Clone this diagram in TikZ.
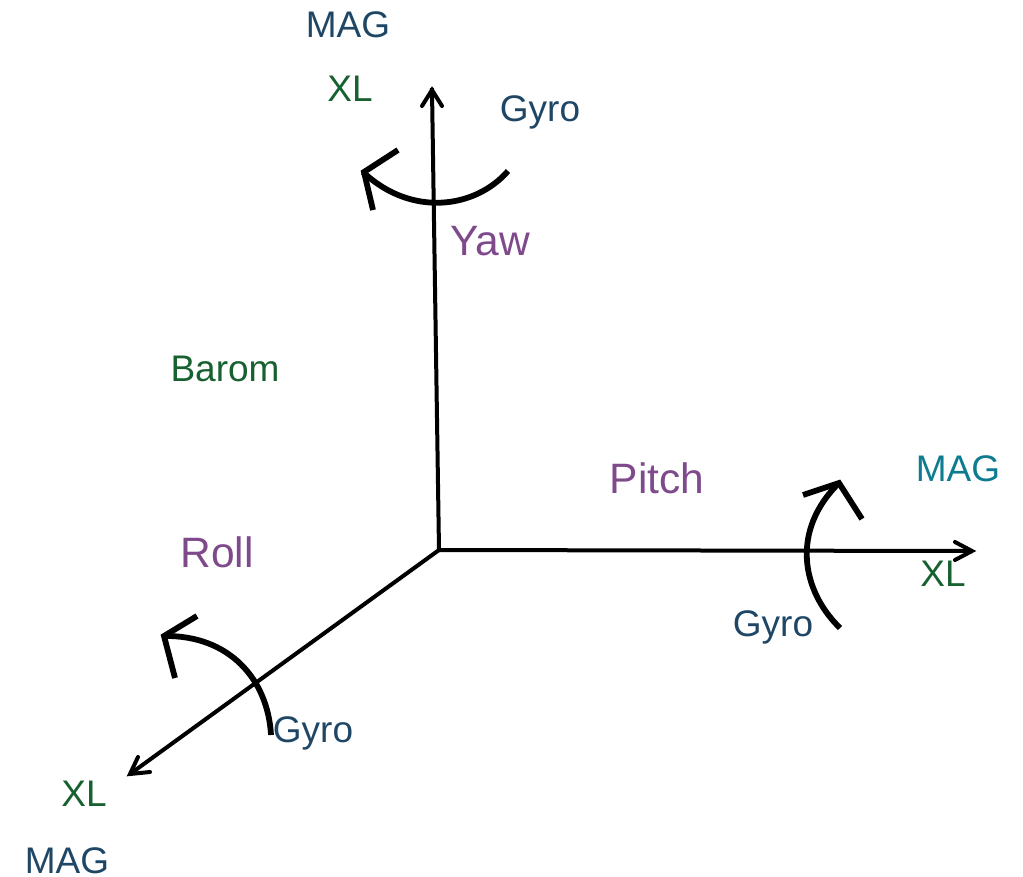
\documentclass[tikz,border=0pt]{standalone}
\usepackage{fontspec}
\setmainfont{Liberation Sans}
\definecolor{navy}{HTML}{1F4765}
\definecolor{dgreen}{HTML}{17602F}
\definecolor{purp}{HTML}{7F4A8C}
\definecolor{teal2}{HTML}{0E7C90}
\tikzset{
 px/.style={x=1pt,y=-1pt},
 lab/.style={inner sep=0pt,anchor=base,font=\fontsize{37}{40}\selectfont},
 big/.style={inner sep=0pt,anchor=base,font=\fontsize{42.5}{46}\selectfont,text=purp},
 axis/.style={line width=4pt,draw=black},
 head/.style={line width=4pt,draw=black,line cap=round,line join=miter},
 arc/.style={line width=5.8pt,draw=black},
}
\begin{document}
\begin{tikzpicture}[px]
\useasboundingbox (0,0) rectangle (1023,876);
\coordinate (O) at (439,550);
\coordinate (Y) at (432,90);
\coordinate (R) at (972,551);
\coordinate (L) at (130,774);
\draw[axis,line cap=rect] (Y) -- (O);
\draw[axis] (O) -- (R);
\draw[axis] (O) -- (L);
\draw[head] (422,106) -- (Y) -- (442,106);
\draw[head] (955,542) -- (R) -- (955,560);
\draw[head] (138,757) -- (L) -- (150,772);
\draw[arc] (508,171) .. controls (476,208) and (412,218) .. (363,172);
\draw[arc] (398,150) -- (364,172) -- (373,210);
\draw[arc] (840,628) .. controls (801,590) and (791,530) .. (839,483);
\draw[arc] (803,495) -- (839,483) -- (862,519);
\draw[arc] (271,735) .. controls (268,680) and (230,635) .. (164,636);
\draw[arc] (197,616) -- (164,636) -- (175,678);
\node[lab,text=navy] (mag1) at (348,37) {MAG};
\node[lab,text=dgreen] (xl1) at (350,101) {XL};
\node[lab,text=navy] (gyro1) at (540,121) {Gyro};
\node[big] (yaw) at (490,255) {Yaw};
\node[lab,text=dgreen] (barom) at (225,381) {Barom};
\node[big] (pitch) at (657,493) {Pitch};
\node[lab,text=teal2] (mag2) at (958,481) {MAG};
\node[lab,text=dgreen] (xl2) at (943,586) {XL};
\node[lab,text=navy] (gyro2) at (773,636) {Gyro};
\node[big] (roll) at (217,567) {Roll};
\node[lab,text=navy] (gyro3) at (313,742) {Gyro};
\node[lab,text=dgreen] (xl3) at (84,806) {XL};
\node[lab,text=navy] (mag3) at (67,873.5) {MAG};
\end{tikzpicture}
\end{document}
